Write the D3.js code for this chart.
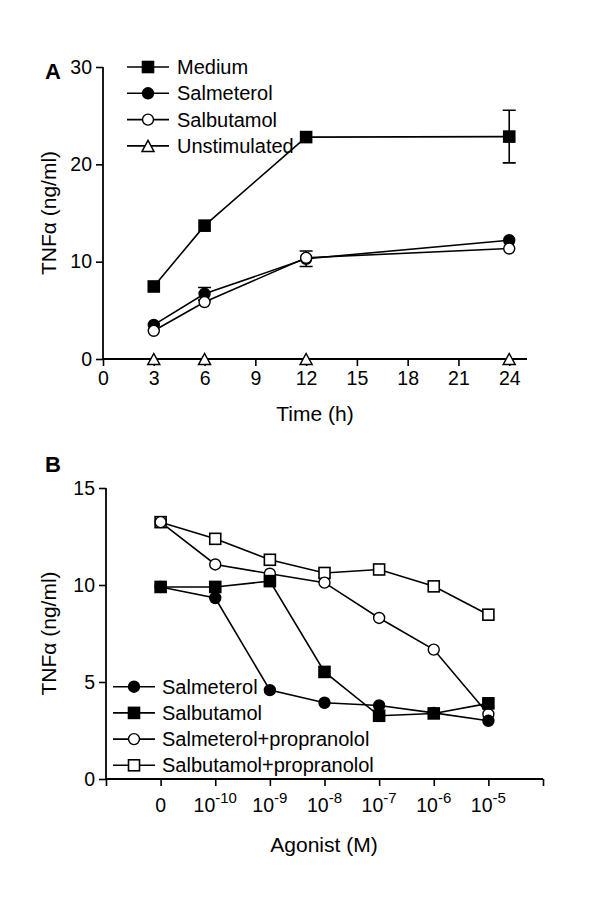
<!DOCTYPE html>
<html><head><meta charset="utf-8">
<script src="https://cdn.jsdelivr.net/npm/d3@7"></script>
<style>body{margin:0;background:#fff}svg{display:block}text{font-family:Arial,"Liberation Sans",sans-serif;fill:#000}</style>
</head><body>
<svg id="c" width="600" height="913"></svg>
<script>
// ---- Panel A data ----
const timesA = [3, 6, 12, 24];
const mediumA = [7.45, 13.7, 22.8, 22.85];
const mediumErrA = [0, 0, 0, 2.7];
const salmeterolA = [3.5, 6.7, 10.3, 12.2];
const salmeterolErrA = [0, 0.65, 0.8, 0];
const salbutamolA = [2.9, 5.85, 10.4, 11.35];
const salbutamolErrA = [0, 0, 0, 0];
const unstimA = [0, 0, 0, 0];
const unstimErrA = [0, 0, 0, 0];
const xTicksA = [0, 3, 6, 9, 12, 15, 18, 21, 24];
const yTicksA = [0, 10, 20, 30];
const legendA = ["Medium", "Salmeterol", "Salbutamol", "Unstimulated"];

// ---- Panel B data ----
const doseLabelsB = [["0", ""], ["10", "-10"], ["10", "-9"], ["10", "-8"], ["10", "-7"], ["10", "-6"], ["10", "-5"]];
const salmeterolB = [9.9, 9.33, 4.58, 3.93, 3.79, 3.41, 3.0];
const salbutamolB = [9.9, 9.9, 10.2, 5.52, 3.26, 3.38, 3.9];
const salmPropB = [13.24, 11.06, 10.58, 10.12, 8.3, 6.67, 3.34];
const salbPropB = [13.24, 12.38, 11.3, 10.62, 10.8, 9.93, 8.47];
const yTicksB = [0, 5, 10, 15];
const legendB = ["Salmeterol", "Salbutamol", "Salmeterol+propranolol", "Salbutamol+propranolol"];

const svg = d3.select("#c");
const SW = 1.6;

function marker(g, type, x, y) {
  const s = 11;
  if (type === "sqF" || type === "sqO") {
    g.append("rect").attr("x", x - s/2).attr("y", y - s/2).attr("width", s).attr("height", s)
      .attr("fill", type === "sqF" ? "#000" : "#fff").attr("stroke", "#000").attr("stroke-width", 1.6);
  } else if (type === "ciF" || type === "ciO") {
    g.append("circle").attr("cx", x).attr("cy", y).attr("r", s/2)
      .attr("fill", type === "ciF" ? "#000" : "#fff").attr("stroke", "#000").attr("stroke-width", 1.4);
  } else if (type === "tri") {
    const h = 11, w = 12;
    g.append("path").attr("d", `M${x},${y - h/2}L${x + w/2},${y + h/2}L${x - w/2},${y + h/2}Z`)
      .attr("fill", "#fff").attr("stroke", "#000").attr("stroke-width", 1.5);
  }
}

function yAxis(g, y, ticks, x0) {
  const ax = d3.axisLeft(y).tickValues(ticks).tickSize(7).tickPadding(4).tickFormat(d3.format("d"));
  const a = g.append("g").attr("transform", `translate(${x0},0)`).call(ax);
  a.select(".domain").attr("stroke-width", 1.8).attr("d", `M0,${y.range()[0]}V${y.range()[1]}`);
  a.selectAll(".tick line").attr("stroke-width", 1.6);
  a.selectAll(".tick text").style("font-size", "19.5px").attr("fill", "#000");
}

// ================= Panel A =================
const xA = d3.scaleLinear().domain([0, 25.05]).range([103, 527]);
const yA = d3.scaleLinear().domain([0, 30]).range([359, 67]);
const gA = svg.append("g");

const axA = gA.append("g").attr("transform", `translate(0,${yA(0)})`)
  .call(d3.axisBottom(xA).tickValues(xTicksA).tickSize(7).tickPadding(5));
axA.select(".domain").attr("stroke-width", 1.8).attr("d", `M${xA.range()[0]},0H${xA.range()[1]}`);
axA.selectAll(".tick line").attr("stroke-width", 1.6);
axA.selectAll(".tick text").style("font-size", "19.5px");
yAxis(gA, yA, yTicksA, xA(0));

gA.append("text").attr("x", 315).attr("y", 421).attr("text-anchor", "middle").style("font-size", "21px").text("Time (h)");
gA.append("text").attr("transform", `translate(56,${(yA(0)+yA(30))/2}) rotate(-90)`).attr("text-anchor", "middle")
  .style("font-size", "21px").text("TNFα (ng/ml)");
gA.append("text").attr("x", 45).attr("y", 79).style("font-size", "22px").style("font-weight", "bold").text("A");

const seriesA = [
  {v: mediumA, e: mediumErrA, m: "sqF"},
  {v: salmeterolA, e: salmeterolErrA, m: "ciF"},
  {v: salbutamolA, e: salbutamolErrA, m: "ciO"},
  {v: unstimA, e: unstimErrA, m: "tri"}
];
const lineA = d3.line().x(d => xA(d[0])).y(d => yA(d[1]));
seriesA.forEach(s => {
  const pts = timesA.map((t, i) => [t, s.v[i], s.e[i]]);
  gA.append("path").attr("d", lineA(pts)).attr("fill", "none").attr("stroke", "#000").attr("stroke-width", SW);
  pts.forEach(p => {
    if (p[2] > 0) {
      const x = xA(p[0]), y1 = yA(p[1] - p[2]), y2 = yA(p[1] + p[2]);
      gA.append("path").attr("d", `M${x},${y1}V${y2}M${x-6.5},${y1}H${x+6.5}M${x-6.5},${y2}H${x+6.5}`)
        .attr("stroke", "#000").attr("stroke-width", 1.6).attr("fill", "none");
    }
  });
});
seriesA.forEach(s => timesA.forEach((t, i) => marker(gA, s.m, xA(t), yA(s.v[i]))));

legendA.forEach((name, i) => {
  const y = 67 + i * 26.3;
  gA.append("line").attr("x1", 127).attr("x2", 169).attr("y1", y).attr("y2", y).attr("stroke", "#000").attr("stroke-width", SW);
  marker(gA, seriesA[i].m, 148, y);
  gA.append("text").attr("x", 177).attr("y", y + 7).style("font-size", "20px").text(name);
});

// ================= Panel B =================
const xB = d3.scaleLinear().domain([-1, 7]).range([106, 543]);
const yB = d3.scaleLinear().domain([0, 15]).range([779, 488]);
const gB = svg.append("g");

const axB = gB.append("g").attr("transform", `translate(0,${yB(0)})`)
  .call(d3.axisBottom(xB).tickValues(d3.range(-1, 8)).tickSize(7).tickFormat(""));
axB.select(".domain").attr("stroke-width", 1.8).attr("d", `M${xB.range()[0]},0H${xB.range()[1]}`);
axB.selectAll(".tick line").attr("stroke-width", 1.6);
doseLabelsB.forEach((lab, i) => {
  const t = gB.append("text").attr("x", xB(i)).attr("y", 812).attr("text-anchor", "middle").style("font-size", "19.5px");
  t.append("tspan").text(lab[0]);
  if (lab[1]) t.append("tspan").attr("dy", -9).style("font-size", "15px").text(lab[1]);
});
yAxis(gB, yB, yTicksB, xB(-1));

gB.append("text").attr("x", 324).attr("y", 852).attr("text-anchor", "middle").style("font-size", "21px").text("Agonist (M)");
gB.append("text").attr("transform", `translate(56,${(yB(0)+yB(15))/2}) rotate(-90)`).attr("text-anchor", "middle")
  .style("font-size", "21px").text("TNFα (ng/ml)");
gB.append("text").attr("x", 45).attr("y", 472).style("font-size", "22px").style("font-weight", "bold").text("B");

const seriesB = [
  {v: salmeterolB, m: "ciF"},
  {v: salbutamolB, m: "sqF"},
  {v: salmPropB, m: "ciO"},
  {v: salbPropB, m: "sqO"}
];
const lineB = d3.line().x((d, i) => xB(i)).y(d => yB(d));
seriesB.forEach(s => gB.append("path").attr("d", lineB(s.v)).attr("fill", "none").attr("stroke", "#000").attr("stroke-width", SW));
[3, 2, 1, 0].forEach(k => seriesB[k].v.forEach((v, i) => marker(gB, seriesB[k].m, xB(i), yB(v))));

legendB.forEach((name, i) => {
  const y = 686.7 + i * 26.2;
  gB.append("line").attr("x1", 113).attr("x2", 155).attr("y1", y).attr("y2", y).attr("stroke", "#000").attr("stroke-width", SW);
  marker(gB, seriesB[i].m, 134, y);
  gB.append("text").attr("x", 162).attr("y", y + 7).style("font-size", "20px").text(name);
});
</script>
</body></html>
